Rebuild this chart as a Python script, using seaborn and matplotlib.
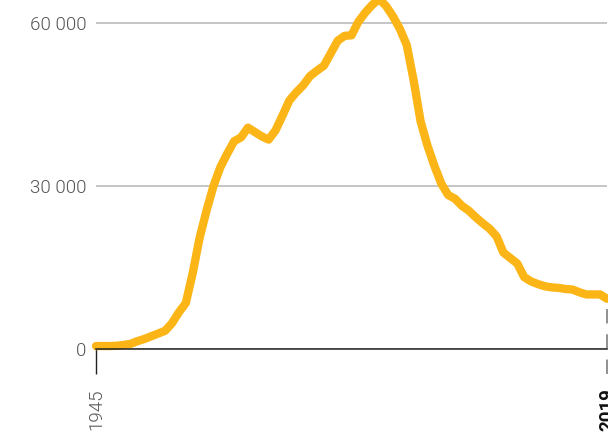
import matplotlib
matplotlib.use("Agg")
import matplotlib.pyplot as plt
import seaborn as sns
import pandas as pd

# stockpile per year
years = list(range(1945, 2020))
warheads = [
    600, 600, 600, 650, 800, 1000, 1500, 1900, 2400, 2900,
    3400, 4800, 6800, 8500, 14000, 20500, 25500, 30000, 33500, 36000,
    38300, 39000, 40800, 40000, 39200, 38600, 40300, 43000, 45800, 47300,
    48600, 50300, 51300, 52200, 54500, 56800, 57700, 57800, 60300, 62000,
    63400, 64500, 63200, 61300, 59000, 56000, 49500, 42000, 37500, 33800,
    30500, 28400, 27700, 26400, 25500, 24300, 23200, 22200, 20800, 17800,
    16800, 15800, 13300, 12500, 12000, 11600, 11400, 11300, 11100, 11000,
    10500, 10100, 10100, 10100, 9300,
]
y_ticks = [0, 30000, 60000]
y_labels = ["0", "30 000", "60 000"]
x_ticks = [1945, 2019]
x_labels = ["1945", "2019"]

df = pd.DataFrame({"year": years, "warheads": warheads})

sns.set_style("white")
plt.rcParams["font.family"] = ["Roboto", "DejaVu Sans"]

fig = plt.figure(figsize=(6.08, 4.33), dpi=100)
ax = fig.add_axes([96 / 608, (433 - 349.3) / 433, (607 - 96) / 608, 349.3 / 433])

sns.lineplot(data=df, x="year", y="warheads", ax=ax, color="#fbb516",
             linewidth=6, solid_capstyle="round", solid_joinstyle="round")
ax.lines[0].set_clip_on(False)

ax.set_xlim(1945, 2019)
ax.set_ylim(0, 64300)

ax.set_yticks(y_ticks)
ax.set_yticklabels(y_labels, fontsize=13.5, fontweight=300, color="#555555")
ax.set_xticks(x_ticks)
ax.set_xticklabels(x_labels, rotation=90, fontsize=13.5, fontweight=300,
                   color="#555555", va="top")
ax.get_xticklabels()[1].set_fontweight("bold")
ax.get_xticklabels()[1].set_color("#111111")

ax.tick_params(axis="y", left=False, length=0, pad=7)
ax.tick_params(axis="x", bottom=True, length=18, width=1, color="#222222", pad=10, direction="out")
ax.xaxis.get_major_ticks()[1].tick1line.set_visible(False)

ax.yaxis.grid(True, color="#bbbbbb", linewidth=1.2)
ax.set_axisbelow(True)
for s in ["left", "right", "top"]:
    ax.spines[s].set_visible(False)
ax.spines["bottom"].set_color("#222222")
ax.spines["bottom"].set_linewidth(1.1)

# dashed marker from last value down past the axis
ax.axvline(2019, ymin=-25 / 349.3, ymax=(warheads[-1] - 1800) / 64300,
           color="#888888", linewidth=1.3, linestyle=(0, (8, 6)), clip_on=False, zorder=1)

ax.set_xlabel("")
ax.set_ylabel("")

fig.savefig("out.png", dpi=100)
